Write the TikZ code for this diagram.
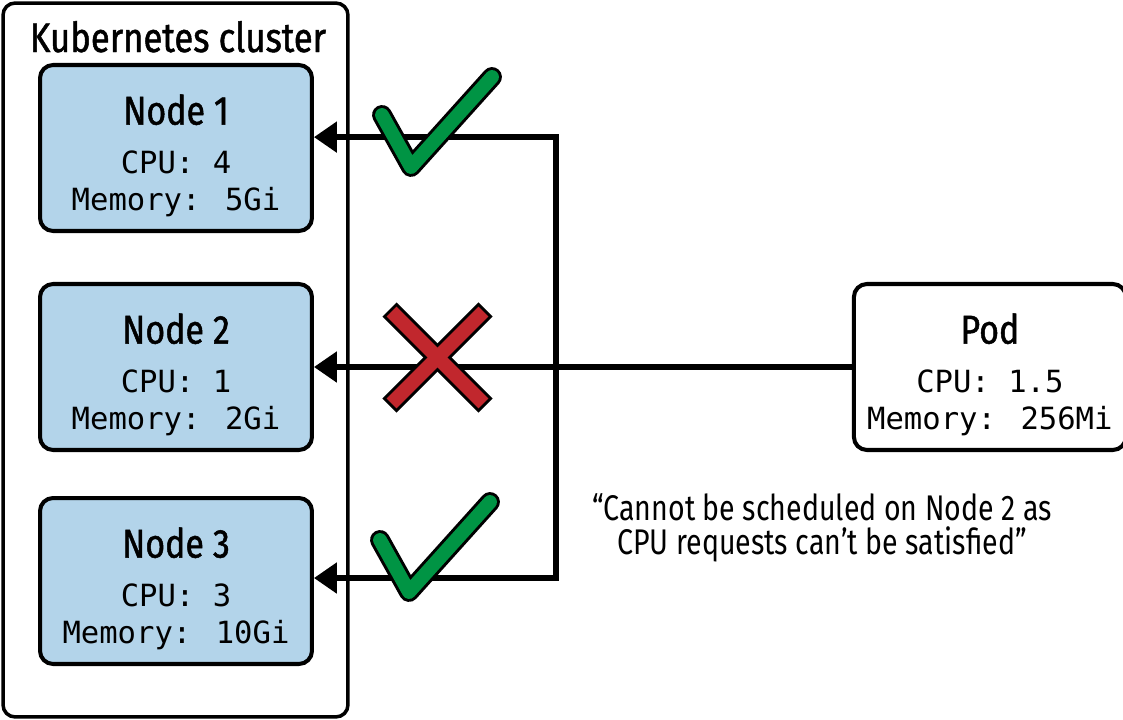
\documentclass[tikz,border=0pt]{standalone}
\usepackage{fontspec}
\usepackage{tikz}
\usetikzlibrary{arrows.meta,positioning}
\newfontfamily\boxtitlefont[FakeStretch=0.84,FakeBold=1.2]{Fira Sans}
\newfontfamily\remarkfont[FakeStretch=0.8]{Fira Sans}
\newfontfamily\boxmonofont{DejaVu Sans Mono}
\definecolor{nodeblue}{HTML}{B3D4EA}
\definecolor{okgreen}{HTML}{009444}
\definecolor{nored}{HTML}{C1272D}
\newcommand\hostspec[3]{{\boxtitlefont\fontsize{23}{28}\selectfont\rule{0pt}{26pt}#1}\\[7pt] CPU: #2\\ Memory: #3}

\begin{document}
\begin{tikzpicture}[x=0.02cm, y=-0.02cm, >={Triangle[length=13pt,width=17pt]},
	cluster/.style={draw, line width=2pt, rounded corners=0.24cm, minimum width=6.9cm, minimum height=14.28cm},
	worker/.style={draw, line width=2.3pt, rounded corners=0.26cm, fill=nodeblue, minimum width=5.44cm, minimum height=3.32cm, align=center, inner sep=0pt, font=\boxmonofont\fontsize{17.4}{21}\selectfont},
	pod/.style={worker, fill=white},
	heading/.style={inner sep=0pt, font=\boxtitlefont\fontsize{23.5}{28}\selectfont},
	remark/.style={inner sep=0pt, align=center, font=\remarkfont\fontsize{20.3}{19.5}\selectfont},
	link/.style={line width=3pt},
	okmark/.pic={
		\draw[line width=11.3pt, line cap=round, line join=round] (-29,-52) -- (0,0) -- (81,-90);
		\draw[okgreen, line width=7.9pt, line cap=round, line join=round] (-29,-52) -- (0,0) -- (81,-90);
	},
	nomark/.pic={
		\foreach \s in {1,-1}
			\draw[line width=11.3pt] (-48,-48*\s) -- (48,48*\s);
		\foreach \s in {1,-1}
			\draw[nored, line width=7.9pt, shorten <=1.7pt, shorten >=1.7pt] (-48,-48*\s) -- (48,48*\s);
	}]
		\useasboundingbox (0,0) rectangle (1123,720);

		\node[cluster] (cluster) at (175.5,360) {};
		\node[heading, anchor=base] (k8s) at (178,52) {Kubernetes cluster};

		\node[worker] (node2) at (176,367) {\hostspec{Node 2}{1}{2Gi}};
		\node[worker] (node1) [above=0.98cm of node2] {\hostspec{Node 1}{4}{5Gi}};
		\node[worker] (node3) [below=0.88cm of node2] {\hostspec{Node 3}{3}{10Gi}};
		\node[pod] (pod) [right=10.76cm of node2] {\hostspec{Pod}{1.5}{256Mi}};

		\node[remark] (reason) at (822,528) {“Cannot be scheduled on Node 2 as\\CPU requests can’t be satisfied”};

		\coordinate (bus) at (556,367);

		\draw[link,->] (pod) -- (node2);
		\draw[link,->] (bus) |- ([yshift=6.2pt]node1.east);
		\draw[link,->] (bus) |- ([yshift=1.7pt]node3.east);

		\pic at (411,167) {okmark};
		\pic at (409,592) {okmark};
		\pic at (437.5,357.5) {nomark};
	\end{tikzpicture}
\end{document}
